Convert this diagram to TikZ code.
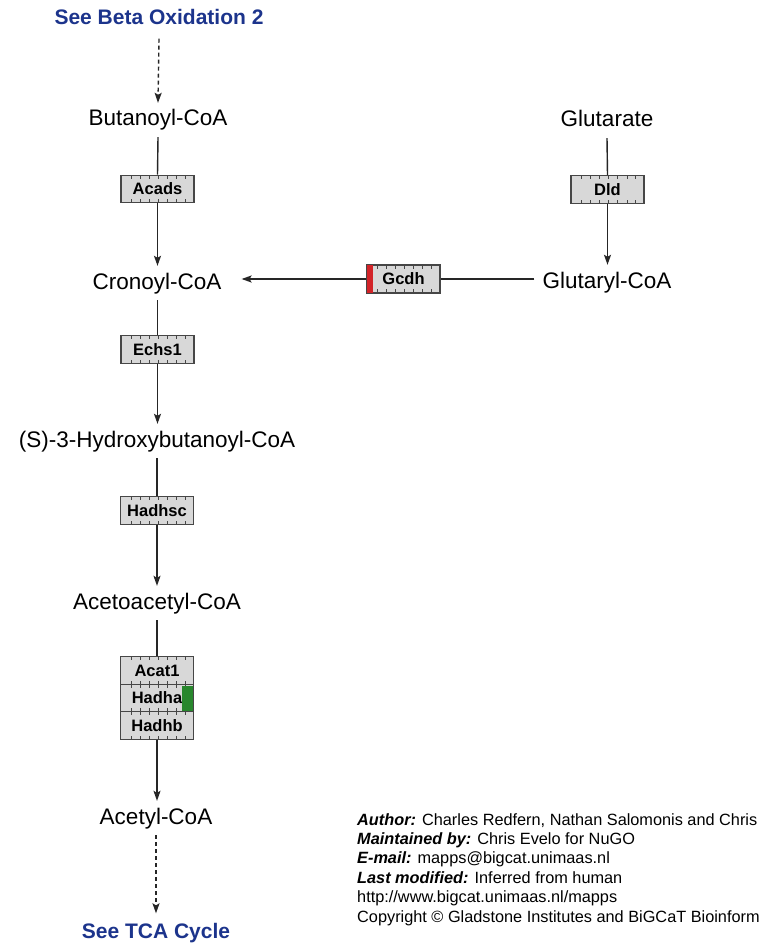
\documentclass[tikz,border=0pt]{standalone}
\usepackage{fontspec}
\setmainfont{Liberation Sans}
\usetikzlibrary{arrows.meta,calc}
\definecolor{linkblue}{RGB}{28,52,140}
\definecolor{boxfill}{RGB}{216,216,216}
\definecolor{boxline}{RGB}{70,70,70}
\definecolor{gcdhred}{RGB}{210,35,40}
\definecolor{hadhagreen}{RGB}{40,135,45}
\begin{document}
\begin{tikzpicture}[x=1pt,y=-1pt,
  lbl/.style={font=\fontsize{22.5}{27}\selectfont, inner xsep=6pt, inner ysep=6.5pt,
    text height=16.5pt, text depth=4.5pt, anchor=base},
  link/.style={font=\bfseries\fontsize{21}{25}\selectfont, text=linkblue, inner xsep=4pt,
    inner ysep=9pt, text height=15.5pt, text depth=4.5pt, anchor=base},
  gene/.style={draw=boxline, line width=1.1pt, fill=boxfill, minimum width=73pt,
    minimum height=27.5pt, inner sep=0pt, font=\bfseries\fontsize{16.5}{18}\selectfont,
    path picture={
      \foreach \f in {0.15,0.273,0.397,0.52,0.643,0.767,0.89}{
        \draw[boxline, line width=1pt]
          ($(path picture bounding box.north west)!\f!(path picture bounding box.north east)$) -- ++(0,3.5);
        \draw[boxline, line width=1pt]
          ($(path picture bounding box.south west)!\f!(path picture bounding box.south east)$) -- ++(0,-3.5);
      }}},
  conv/.style={line width=1.4pt, draw=black!85},
  arr/.style={conv, -{Stealth[length=10pt,width=7pt,inset=2pt]}},
  darr/.style={arr, dash pattern=on 4pt off 3pt}
]
\useasboundingbox (0,0) rectangle (762,944);
\clip (0,0) rectangle (762,944);
\fill[white] (0,0) rectangle (762,944);

% metabolites
\node[link] (beta) at (159,25) {See Beta Oxidation 2};
\node[lbl] (buta) at (158,126) {Butanoyl-CoA};
\node[lbl, inner xsep=20pt] (cron) at (157,289) {Cronoyl-CoA};
\node[lbl] (hydr) at (157,447) {(S)-3-Hydroxybutanoyl-CoA};
\node[lbl] (acac) at (157,609) {Acetoacetyl-CoA};
\node[lbl] (acet) at (156,824) {Acetyl-CoA};
\node[link] (tca) at (156,938) {See TCA Cycle};
\node[lbl] (glut) at (607,127) {Glutarate};
\node[lbl, inner xsep=8pt] (glcoa) at (607,288) {Glutaryl-CoA};

% enzymes
\node[gene] (acads) at (157.5,189) {Acads};
\node[gene] (echs) at (157.5,349.5) {Echs1};
\node[gene] (hadhsc) at (157,510.5) {Hadhsc};
\node[gene] (acat) at (157,670.5) {Acat1};
\node[gene] (hadha) at (157,698) {Hadha};
\node[gene] (hadhb) at (157,725.5) {Hadhb};
\node[gene] (dld) at (607.5,189.5) {Dld};
\node[gene] (gcdh) at (403.5,279) {Gcdh};

% colour marks
\fill[gcdhred] (gcdh.north west) rectangle ([xshift=7pt]gcdh.south west);
\draw[boxline, line width=1.1pt] (gcdh.north west) rectangle (gcdh.south east);
\fill[hadhagreen] ([xshift=-12pt,yshift=-2pt]hadha.north east) rectangle ([xshift=-1.5pt,yshift=1.5pt]hadha.south east);

% connectors
\draw[darr] (beta.south) -- (buta.north);
\draw[conv] (buta.south) -- (acads.north);
\draw[arr] (acads.south) -- (acads.south |- cron.north);
\draw[conv] (cron.south -| echs.north) -- (echs.north);
\draw[arr] (echs.south) -- (echs.south |- hydr.north);
\draw[conv] (hydr.south) -- (hadhsc.north);
\draw[arr] (hadhsc.south) -- (hadhsc.south |- acac.north);
\draw[conv] (acac.south) -- (acat.north);
\draw[arr] (hadhb.south) -- (hadhb.south |- acet.north);
\draw[darr] (acet.south) -- (tca.north);

\draw[conv] (glut.south) -- (dld.north);
\draw[arr] (dld.south) -- (dld.south |- glcoa.north);
\draw[conv] (gcdh.east -| glcoa.west) -- (gcdh.east);
\draw[arr] (gcdh.west) -- (gcdh.west -| cron.east);

% info block (base anchor = baseline of last line)
\node[anchor=base west, align=left, inner sep=0pt, font=\fontsize{16.3}{19.4}\selectfont] (info) at (357,922)
{\textbf{\textit{Author:}} Charles Redfern, Nathan Salomonis and Chris\\
\textbf{\textit{Maintained by:}} Chris Evelo for NuGO\\
\textbf{\textit{E-mail:}} mapps@bigcat.unimaas.nl\\
\textbf{\textit{Last modified:}} Inferred from human\\
http://www.bigcat.unimaas.nl/mapps\\
Copyright © Gladstone Institutes and BiGCaT Bioinform};
\end{tikzpicture}
\end{document}
